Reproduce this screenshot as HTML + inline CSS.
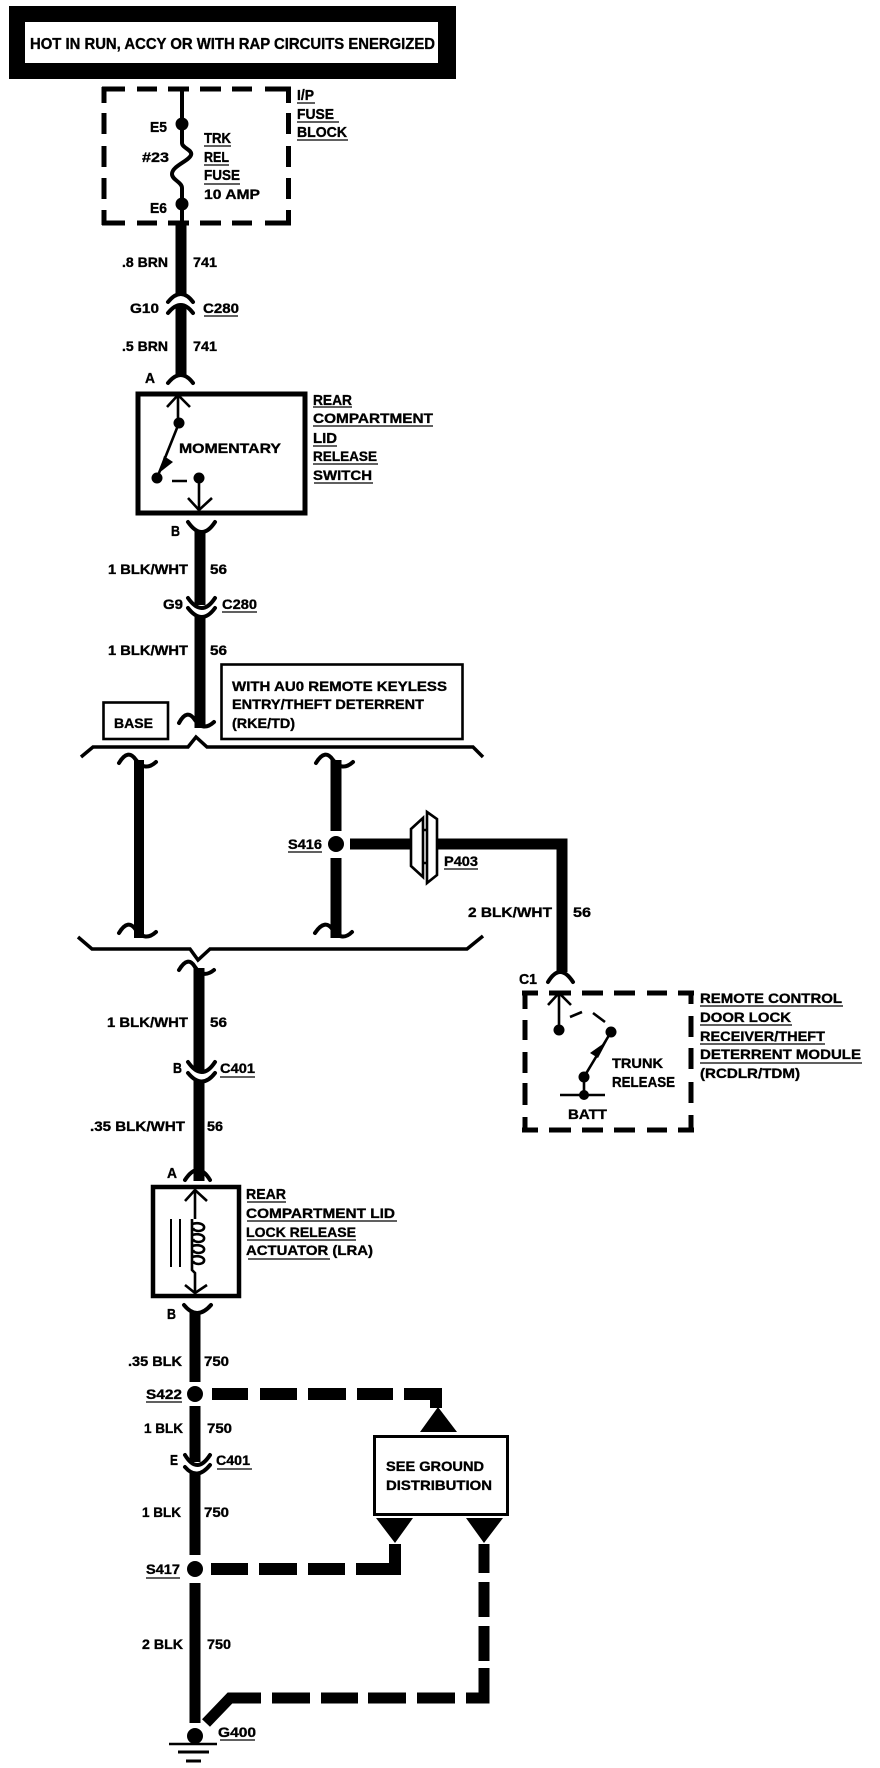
<!DOCTYPE html>
<html><head><meta charset="utf-8"><style>
html,body{margin:0;padding:0;background:#fff}
svg{display:block}
text{font-family:"Liberation Sans",sans-serif;font-weight:bold;font-size:14px;fill:#000;stroke:#000;stroke-width:.35}
.n{fill:none;stroke:#000}
.c{fill:none;stroke:#000;stroke-width:4;stroke-linecap:round}
.w{fill:none;stroke:#000;stroke-width:11}
.t{fill:none;stroke:#000;stroke-width:2.6}
.d{fill:none;stroke:#000;stroke-width:5}
.u{fill:none;stroke:#000;stroke-width:1.3}
</style></head><body>
<svg width="880" height="1768" viewBox="0 0 880 1768" xmlns="http://www.w3.org/2000/svg">
<rect width="880" height="1768" fill="#fff"/>
<!-- title -->
<rect x="9" y="6" width="447" height="73" fill="#000"/>
<rect x="25" y="22" width="413" height="41" fill="#fff"/>
<text x="30" y="49" style="font-size:16px" textLength="405" lengthAdjust="spacingAndGlyphs">HOT IN RUN, ACCY OR WITH RAP CIRCUITS ENERGIZED</text>

<!-- fuse block dashed -->
<path class="d" d="M102 89H125M137 89H157M168 89H189M200 89H221M232 89H252M265 89H291M102 223H125M137 223H157M168 223H189M200 223H221M232 223H252M265 223H291M104 87V103M104 113V134M104 146V167M104 178V199M104 210V225M288.500 87V103M288.500 113V134M288.500 146V167M288.500 178V199M288.500 210V225"/>
<path class="n" stroke-width="4" d="M182 89V143C182 148 193 150 191 155C189 161 172 166 172 174C172 180 182 182 182 188V223"/>
<circle cx="182" cy="124" r="6.500"/><circle cx="182" cy="204" r="6.500"/>
<text x="150" y="132" style="font-size:15px" textLength="17" lengthAdjust="spacingAndGlyphs">E5</text>
<text x="142" y="162" textLength="27" lengthAdjust="spacingAndGlyphs">#23</text>
<text x="150" y="213" style="font-size:15px" textLength="17" lengthAdjust="spacingAndGlyphs">E6</text>
<text x="204" y="143" style="font-size:15px" textLength="27" lengthAdjust="spacingAndGlyphs">TRK</text>
<text x="204" y="162" style="font-size:15px" textLength="25" lengthAdjust="spacingAndGlyphs">REL</text>
<text x="204" y="180" style="font-size:15px" textLength="36" lengthAdjust="spacingAndGlyphs">FUSE</text>
<text x="204" y="199" textLength="56" lengthAdjust="spacingAndGlyphs">10 AMP</text>
<text x="297" y="100" style="font-size:15px" textLength="17" lengthAdjust="spacingAndGlyphs">I/P</text>
<text x="297" y="119" style="font-size:15px" textLength="37" lengthAdjust="spacingAndGlyphs">FUSE</text>
<text x="297" y="137" style="font-size:15px" textLength="50" lengthAdjust="spacingAndGlyphs">BLOCK</text>
<path class="u" d="M204 146H231M204 165H229M204 184H240M297 103H315M297 122H339M297 140H348"/>

<!-- wire 741 -->
<path class="w" d="M181 223V295M181 306V376"/>
<path class="c" d="M168 302Q181 286 193 302M168 313Q181 297 193 313M168 383Q181 367 193 383"/>
<text x="122" y="267" textLength="46" lengthAdjust="spacingAndGlyphs">.8 BRN</text>
<text x="193" y="267" textLength="24" lengthAdjust="spacingAndGlyphs">741</text>
<text x="130" y="313" textLength="29" lengthAdjust="spacingAndGlyphs">G10</text>
<text x="203" y="313" textLength="36" lengthAdjust="spacingAndGlyphs">C280</text>
<path class="u" d="M204 316H238"/>
<text x="122" y="351" textLength="46" lengthAdjust="spacingAndGlyphs">.5 BRN</text>
<text x="193" y="351" textLength="24" lengthAdjust="spacingAndGlyphs">741</text>
<text x="145" y="383" style="font-size:15px" textLength="10" lengthAdjust="spacingAndGlyphs">A</text>

<!-- switch -->
<rect x="138" y="394" width="167" height="119" fill="none" stroke="#000" stroke-width="5"/>
<path class="n" stroke-width="2.600" d="M167 407L178 395L190 407M178 395V423M179 423L157 478M199 478V510M188 498L199 510L212 498M172 481H187"/>
<path d="M164 456L173 462L159 473Z"/>
<circle cx="179" cy="423" r="5.500"/><circle cx="157" cy="478" r="5.500"/><circle cx="199" cy="478" r="5.500"/>
<text x="179" y="453" textLength="102" lengthAdjust="spacingAndGlyphs">MOMENTARY</text>
<text x="313" y="405" style="font-size:15px" textLength="39" lengthAdjust="spacingAndGlyphs">REAR</text>
<text x="313" y="423" textLength="120" lengthAdjust="spacingAndGlyphs">COMPARTMENT</text>
<text x="313" y="443" style="font-size:15px" textLength="24" lengthAdjust="spacingAndGlyphs">LID</text>
<text x="313" y="461" textLength="64" lengthAdjust="spacingAndGlyphs">RELEASE</text>
<text x="313" y="480" textLength="59" lengthAdjust="spacingAndGlyphs">SWITCH</text>
<path class="u" d="M313 407H352M313 426H433M313 446H337M313 464H378M314 483H373"/>

<!-- wire 56 upper -->
<path class="w" d="M200 530V605M200 616V728"/>
<path class="c" d="M188 522Q202 542 215 522M188 598Q202 618 215 598M188 608Q202 626 215 608M179 723Q187 708 195 720Q203 732 214 722"/>
<text x="171" y="536" style="font-size:15px" textLength="9" lengthAdjust="spacingAndGlyphs">B</text>
<text x="108" y="574" textLength="80" lengthAdjust="spacingAndGlyphs">1 BLK/WHT</text>
<text x="210" y="574" textLength="17" lengthAdjust="spacingAndGlyphs">56</text>
<text x="163" y="609" textLength="20" lengthAdjust="spacingAndGlyphs">G9</text>
<text x="222" y="609" textLength="35" lengthAdjust="spacingAndGlyphs">C280</text>
<path class="u" d="M222 612H257"/>
<text x="108" y="655" textLength="80" lengthAdjust="spacingAndGlyphs">1 BLK/WHT</text>
<text x="210" y="655" textLength="17" lengthAdjust="spacingAndGlyphs">56</text>

<!-- option boxes -->
<rect x="221.500" y="664.500" width="241" height="74.500" fill="none" stroke="#000" stroke-width="2.600"/>
<text x="232" y="691" textLength="215" lengthAdjust="spacingAndGlyphs">WITH AU0 REMOTE KEYLESS</text>
<text x="232" y="709" textLength="192" lengthAdjust="spacingAndGlyphs">ENTRY/THEFT DETERRENT</text>
<text x="232" y="728" textLength="63" lengthAdjust="spacingAndGlyphs">(RKE/TD)</text>
<rect x="103.500" y="702.500" width="64.500" height="36.500" fill="none" stroke="#000" stroke-width="2.600"/>
<text x="114" y="728" textLength="39" lengthAdjust="spacingAndGlyphs">BASE</text>

<!-- braces -->
<path class="n" stroke-width="3.500" d="M81 757L93 747H188L196 737L207 747H473L483 757"/>
<path class="n" stroke-width="3.500" d="M78 937L92 949H190L198 960L210 949H467L483 936"/>

<!-- cross wires -->
<path class="n" stroke-width="10" d="M139 760V938"/>
<path class="n" stroke-width="11" d="M336 760V831M336 858V938M350 844H412M437 844H562V972"/>
<path class="c" d="M119 763Q128 748 136 760Q145 772 156 762M119 933Q128 918 136 930Q145 942 156 932M316 763Q325 748 333 760Q342 772 353 762M315 933Q325 918 333 930Q342 942 352 932"/>
<circle cx="336" cy="844" r="8"/>
<text x="288" y="849" textLength="34" lengthAdjust="spacingAndGlyphs">S416</text>
<path class="u" d="M288 852H322"/>
<path d="M411 829L423 818V877L411 866Z" fill="#fff" stroke="#000" stroke-width="2.600"/>
<path d="M427 812L437 819V875L427 883Z" fill="#fff" stroke="#000" stroke-width="2.600"/>
<path class="n" stroke-width="2.600" d="M423 830H427M423 863H427"/>
<text x="444" y="866" textLength="34" lengthAdjust="spacingAndGlyphs">P403</text>
<path class="u" d="M444 869H478"/>
<text x="468" y="917" textLength="84" lengthAdjust="spacingAndGlyphs">2 BLK/WHT</text>
<text x="573" y="917" textLength="18" lengthAdjust="spacingAndGlyphs">56</text>
<path class="c" d="M548 982Q560 962 573 982"/>
<text x="519" y="984" style="font-size:15px" textLength="18" lengthAdjust="spacingAndGlyphs">C1</text>

<!-- module -->
<path class="d" d="M522 993H538M549 993H571M582 993H603M614 993H635M647 993H667M678 993H694M522 1130H538M549 1130H571M582 1130H603M614 1130H635M647 1130H667M678 1130H694M525 991V1009M525 1020V1040M525 1052V1073M525 1083V1105M525 1117V1132M691 991V1004M691 1016V1037M691 1048V1069M691 1082V1103M691 1115V1132"/>
<path class="n" stroke-width="2.600" d="M548 1005L559 993L571 1005M559 993V1030M570 1017L582 1012M593 1013L605 1022M611 1032L584 1077V1095M560 1095H605"/>
<path d="M607 1041L598 1058L590 1053Z"/>
<circle cx="559" cy="1030" r="5.500"/><circle cx="611" cy="1032" r="5.500"/><circle cx="584" cy="1077" r="5.500"/><circle cx="584" cy="1095" r="5"/>
<text x="612" y="1068" textLength="51" lengthAdjust="spacingAndGlyphs">TRUNK</text>
<text x="612" y="1087" style="font-size:15px" textLength="63" lengthAdjust="spacingAndGlyphs">RELEASE</text>
<text x="568" y="1119" textLength="39" lengthAdjust="spacingAndGlyphs">BATT</text>
<text x="700" y="1003" textLength="142" lengthAdjust="spacingAndGlyphs">REMOTE CONTROL</text>
<text x="700" y="1022" textLength="91" lengthAdjust="spacingAndGlyphs">DOOR LOCK</text>
<text x="700" y="1041" textLength="125" lengthAdjust="spacingAndGlyphs">RECEIVER/THEFT</text>
<text x="700" y="1059" textLength="161" lengthAdjust="spacingAndGlyphs">DETERRENT MODULE</text>
<text x="700" y="1078" textLength="100" lengthAdjust="spacingAndGlyphs">(RCDLR/TDM)</text>
<path class="u" d="M700 1006H843M700 1025H792M700 1044H825M700 1063H862"/>

<!-- wire 56 lower -->
<path class="w" d="M199 968V1071M199 1080V1181"/>
<path class="c" d="M179 970Q188 955 195 967Q203 979 214 970M188 1062Q202 1082 215 1062M188 1073Q202 1090 215 1073M185 1180Q198 1160 210 1180"/>
<text x="107" y="1027" textLength="81" lengthAdjust="spacingAndGlyphs">1 BLK/WHT</text>
<text x="210" y="1027" textLength="17" lengthAdjust="spacingAndGlyphs">56</text>
<text x="173" y="1073" style="font-size:15px" textLength="9" lengthAdjust="spacingAndGlyphs">B</text>
<text x="220" y="1073" textLength="35" lengthAdjust="spacingAndGlyphs">C401</text>
<path class="u" d="M220 1077H255"/>
<text x="90" y="1131" textLength="95" lengthAdjust="spacingAndGlyphs">.35 BLK/WHT</text>
<text x="207" y="1131" textLength="16" lengthAdjust="spacingAndGlyphs">56</text>
<text x="167" y="1178" style="font-size:15px" textLength="10" lengthAdjust="spacingAndGlyphs">A</text>

<!-- actuator -->
<rect x="153" y="1187" width="86" height="109" fill="none" stroke="#000" stroke-width="4.500"/>
<path class="n" stroke-width="2.600" d="M185 1201L195 1190L207 1201M195 1190V1219M192 1219V1270L195 1273V1293M185 1285L195 1293L207 1285"/>
<path class="n" stroke-width="2.600" d="M192 1224C198 1222 205 1224 204 1228C203 1232 194 1232 193 1228M192 1235C198 1233 205 1235 204 1239C203 1243 194 1243 193 1239M192 1246C198 1244 205 1246 204 1250C203 1254 194 1254 193 1250M192 1257C198 1255 205 1257 204 1261C203 1265 194 1265 193 1261"/>
<path class="n" stroke-width="2" d="M171 1219V1267M180 1219V1267"/>
<text x="246" y="1199" style="font-size:15px" textLength="40" lengthAdjust="spacingAndGlyphs">REAR</text>
<text x="246" y="1218" textLength="149" lengthAdjust="spacingAndGlyphs">COMPARTMENT LID</text>
<text x="246" y="1237" textLength="110" lengthAdjust="spacingAndGlyphs">LOCK RELEASE</text>
<text x="246" y="1255" textLength="127" lengthAdjust="spacingAndGlyphs">ACTUATOR (LRA)</text>
<path class="u" d="M247 1202H286M247 1221H397M247 1240H356M248 1259H330"/>

<!-- wire 750 -->
<path class="w" d="M195 1312V1382M195 1406V1462M195 1472V1555M195 1583V1723"/>
<path class="c" d="M184 1305Q197 1321 211 1305M185 1455Q197 1475 210 1455M185 1467Q197 1481 210 1465"/>
<circle cx="195" cy="1394" r="8"/><circle cx="195" cy="1569" r="8"/><circle cx="195" cy="1736" r="8"/>
<path class="n" stroke-width="2.600" d="M169 1744H217"/>
<path class="n" stroke-width="3" d="M178 1752H209M186 1761H201"/>
<text x="167" y="1319" style="font-size:15px" textLength="9" lengthAdjust="spacingAndGlyphs">B</text>
<text x="128" y="1366" textLength="54" lengthAdjust="spacingAndGlyphs">.35 BLK</text>
<text x="204" y="1366" textLength="25" lengthAdjust="spacingAndGlyphs">750</text>
<text x="146" y="1399" textLength="36" lengthAdjust="spacingAndGlyphs">S422</text>
<text x="144" y="1433" textLength="39" lengthAdjust="spacingAndGlyphs">1 BLK</text>
<text x="207" y="1433" textLength="25" lengthAdjust="spacingAndGlyphs">750</text>
<text x="170" y="1465" style="font-size:15px" textLength="8" lengthAdjust="spacingAndGlyphs">E</text>
<text x="216" y="1465" textLength="34" lengthAdjust="spacingAndGlyphs">C401</text>
<text x="142" y="1517" textLength="39" lengthAdjust="spacingAndGlyphs">1 BLK</text>
<text x="204" y="1517" textLength="25" lengthAdjust="spacingAndGlyphs">750</text>
<text x="146" y="1574" textLength="34" lengthAdjust="spacingAndGlyphs">S417</text>
<text x="142" y="1649" textLength="41" lengthAdjust="spacingAndGlyphs">2 BLK</text>
<text x="207" y="1649" textLength="24" lengthAdjust="spacingAndGlyphs">750</text>
<text x="218" y="1737" textLength="38" lengthAdjust="spacingAndGlyphs">G400</text>
<path class="u" d="M146 1402H182M217 1469H252M146 1578H180M220 1740H255"/>

<!-- dashed grounds -->
<path class="n" stroke-width="12" d="M212 1394H248M260 1394H297M308 1394H346M357 1394H393M404 1394H436V1408"/>
<path d="M438 1407L420 1432H457Z"/>
<rect x="374.500" y="1436.500" width="133" height="78" fill="#fff" stroke="#000" stroke-width="3"/>
<text x="386" y="1471" textLength="98" lengthAdjust="spacingAndGlyphs">SEE GROUND</text>
<text x="386" y="1490" textLength="106" lengthAdjust="spacingAndGlyphs">DISTRIBUTION</text>
<path d="M376 1518H413L395 1543ZM466 1518H503L484 1543Z"/>
<path class="n" stroke-width="12" d="M211 1569H248M259 1569H297M308 1569H345M356 1569H395V1544"/>
<path class="n" stroke-width="11" d="M484 1544V1573M484 1582V1617M484 1626V1661M484 1668V1698H466M455 1698H417M406 1698H368M358 1698H321M310 1698H272M261 1698H230L206 1723"/>
</svg>
</body></html>
